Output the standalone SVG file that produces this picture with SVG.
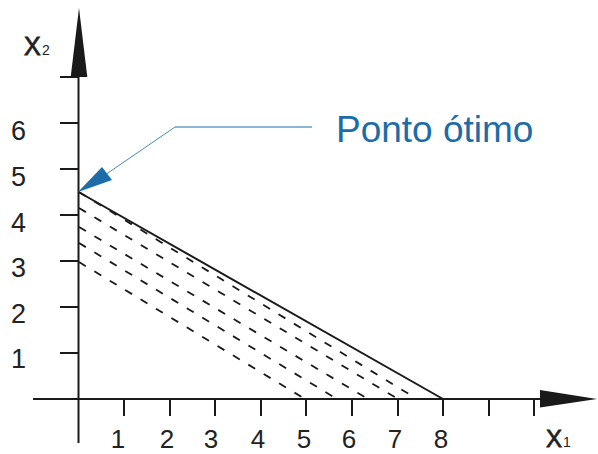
<svg xmlns="http://www.w3.org/2000/svg" width="598" height="454" viewBox="0 0 598 454">
<style>
.ax{stroke:#1a1a1a;stroke-width:2;fill:none}
.tk{stroke:#1a1a1a;stroke-width:2}
.ds{stroke:#1a1a1a;stroke-width:1.8;stroke-dasharray:8 10;fill:none}
.sl{stroke:#1a1a1a;stroke-width:2;fill:none}
.num{font-family:"Liberation Sans",Arial,sans-serif;font-size:27px;fill:#222}
.lab{font-family:"Liberation Sans",Arial,sans-serif;fill:#222}
.bx{stroke:#222;stroke-width:0.8}
.call{font-family:"Liberation Sans",Arial,sans-serif;font-size:37px;fill:#1b6ca8}
</style>
<rect width="598" height="454" fill="#fff"/>
<g id="axes">
<line class="ax" x1="78.5" y1="76" x2="78.5" y2="443"/>
<polygon points="79,8 70.7,77 87.3,77" fill="#1a1a1a"/>
<line class="tk" x1="60" y1="77" x2="79" y2="77"/>
<line class="ax" x1="33" y1="399" x2="541" y2="399"/>
<polygon points="597,399 540,390 540,407.5" fill="#1a1a1a"/>
<g id="yticks">
<line class="tk" x1="60" y1="123" x2="79" y2="123"/>
<line class="tk" x1="60" y1="169" x2="79" y2="169"/>
<line class="tk" x1="60" y1="215" x2="79" y2="215"/>
<line class="tk" x1="60" y1="261" x2="79" y2="261"/>
<line class="tk" x1="60" y1="307" x2="79" y2="307"/>
<line class="tk" x1="60" y1="353" x2="79" y2="353"/>
</g>
<g id="xticks">
<line class="tk" x1="124" y1="399" x2="124" y2="416"/>
<line class="tk" x1="170" y1="399" x2="170" y2="416"/>
<line class="tk" x1="215" y1="399" x2="215" y2="416"/>
<line class="tk" x1="261" y1="399" x2="261" y2="416"/>
<line class="tk" x1="306" y1="399" x2="306" y2="416"/>
<line class="tk" x1="352" y1="399" x2="352" y2="416"/>
<line class="tk" x1="398" y1="399" x2="398" y2="416"/>
<line class="tk" x1="443" y1="399" x2="443" y2="416"/>
<line class="tk" x1="489" y1="399" x2="489" y2="416"/>
<line class="tk" x1="534" y1="399" x2="534" y2="416"/>
</g>
<g id="ylabels" class="num" text-anchor="end">
<text x="26" y="140">6</text>
<text x="26" y="186">5</text>
<text x="26" y="232">4</text>
<text x="26" y="277">3</text>
<text x="26" y="323">2</text>
<text x="26" y="368">1</text>
</g>
<g id="xlabels" class="num" text-anchor="middle" font-size="26" style="font-size:26px">
<text x="118" y="448">1</text>
<text x="167" y="448">2</text>
<text x="211" y="448">3</text>
<text x="258" y="448">4</text>
<text x="304" y="448">5</text>
<text x="349" y="448">6</text>
<text x="395" y="448">7</text>
<text x="441" y="448">8</text>
</g>
<g id="x2label" class="lab"><text class="bx" x="24" y="55" font-size="25">X</text><text x="42" y="55" font-size="14">2</text></g>
<g id="x1label" class="lab"><text class="bx" x="546" y="447" font-size="24">X</text><text x="563" y="447" font-size="14">1</text></g>
</g>
<g id="lines">
<line class="sl" x1="78.5" y1="192" x2="443" y2="399"/>
<line class="ds" x1="79" y1="192" x2="417" y2="399"/>
<line class="ds" x1="79" y1="208" x2="398" y2="399"/>
<line class="ds" x1="79" y1="227" x2="368" y2="399"/>
<line class="ds" x1="79" y1="243" x2="337" y2="399"/>
<line class="ds" x1="79" y1="262" x2="305" y2="399"/>
</g>
<g id="callout">
<line x1="175" y1="127" x2="312" y2="127" stroke="#1b6ca8" stroke-width="1.1"/>
<line x1="175" y1="127" x2="105" y2="175" stroke="#1b6ca8" stroke-width="0.8"/>
<polygon points="78,192 102,167 112,180" fill="#1b6ca8"/>
<text class="call" x="336" y="142">Ponto ótimo</text>
</g>
</svg>
